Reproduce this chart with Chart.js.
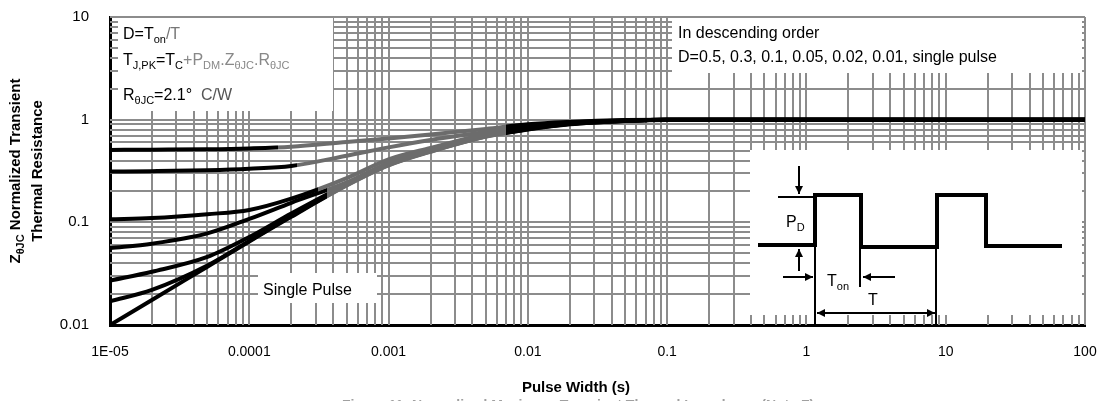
<!DOCTYPE html>
<html>
<head>
<meta charset="utf-8">
<script src="https://cdn.jsdelivr.net/npm/chart.js@4"></script>
<style>
  html, body { margin: 0; padding: 0; background: #fff; }
  #wrap { width: 1106px; height: 401px; }
</style>
</head>
<body>
<div id="wrap"><canvas id="zth" width="1106" height="401"></canvas></div>
<script>
// pulse widths (s) and normalized Zth for each duty cycle
const pulseWidth = [1e-5, 2e-5, 5e-5, 1e-4, 2e-4, 5e-4, 1e-3, 2e-3, 5e-3, 1e-2, 2e-2, 5e-2, 0.1, 1, 10, 100];
const zD05   = [0.507, 0.51, 0.515, 0.525, 0.545, 0.607, 0.656, 0.717, 0.81, 0.90, 0.95, 0.99, 1.0, 1.0, 1.0, 1.0];
const zD03   = [0.312, 0.315, 0.322, 0.333, 0.354, 0.445, 0.537, 0.634, 0.76, 0.87, 0.94, 0.985, 1.0, 1.0, 1.0, 1.0];
const zD01   = [0.107, 0.110, 0.120, 0.132, 0.170, 0.270, 0.410, 0.530, 0.72, 0.84, 0.925, 0.98, 1.0, 1.0, 1.0, 1.0];
const zD005  = [0.056, 0.062, 0.078, 0.108, 0.155, 0.245, 0.380, 0.510, 0.70, 0.825, 0.92, 0.978, 1.0, 1.0, 1.0, 1.0];
const zD002  = [0.027, 0.033, 0.046, 0.072, 0.122, 0.235, 0.365, 0.495, 0.69, 0.815, 0.912, 0.975, 1.0, 1.0, 1.0, 1.0];
const zD001  = [0.017, 0.022, 0.038, 0.066, 0.115, 0.230, 0.360, 0.490, 0.685, 0.808, 0.906, 0.974, 1.0, 1.0, 1.0, 1.0];
const zSingle = [0.010, 0.0175, 0.037, 0.065, 0.113, 0.228, 0.358, 0.486, 0.683, 0.80, 0.90, 0.97, 0.995, 1.0, 1.0, 1.0];

const seriesNames = ['D=0.5', 'D=0.3', 'D=0.1', 'D=0.05', 'D=0.02', 'D=0.01', 'Single Pulse'];
const seriesValues = [zD05, zD03, zD01, zD005, zD002, zD001, zSingle];
// where each curve fades to grey under the watermark
const greyFrom = [1.6e-4, 2.2e-4, 3.1e-4, 3.6e-4, 3.6e-4, 3.6e-4, 3.6e-4];
const greyTo = 7e-3;

const xTickValues = [1e-5, 1e-4, 1e-3, 1e-2, 0.1, 1, 10, 100];
const xTickLabels = ['1E-05', '0.0001', '0.001', '0.01', '0.1', '1', '10', '100'];
const yTickValues = [0.01, 0.1, 1, 10];
const yTickLabels = ['0.01', '0.1', '1', '10'];

const FONT = '"Liberation Sans", Arial, Helvetica, sans-serif';
const GRID = '#8c8c8c';

function gridValues(majors) {
  const out = [];
  majors.forEach((d, i) => {
    if (i === majors.length - 1) { out.push(d); return; }
    for (let m = 1; m <= 9; m++) out.push(parseFloat((m * d).toPrecision(3)));
  });
  return out;
}

function labelFor(values, labels) {
  return (v) => {
    const i = values.findIndex(t => Math.abs(Math.log10(t) - Math.log10(v)) < 1e-6);
    return i >= 0 ? labels[i] : '';
  };
}

function curveColor(idx) {
  return (c) => {
    const chart = c.chart;
    const area = chart.chartArea;
    if (!area) return '#000';
    const xs = chart.scales.x;
    const w = area.right - area.left;
    const a = (xs.getPixelForValue(greyFrom[idx]) - area.left) / w;
    const b = (xs.getPixelForValue(greyTo) - area.left) / w;
    const g = chart.ctx.createLinearGradient(area.left, 0, area.right, 0);
    g.addColorStop(0, '#000');
    g.addColorStop(a, '#000');
    g.addColorStop(a, '#6c6c6c');
    g.addColorStop(b, '#6c6c6c');
    g.addColorStop(b, '#000');
    g.addColorStop(1, '#000');
    return g;
  };
}

// text with subscripts: parts = [{t, sub, color}]
function measureRich(ctx, parts, size, bold) {
  let w = 0;
  parts.forEach(p => {
    ctx.font = `${bold ? 'bold ' : ''}${p.sub ? Math.round(size * 0.7) : size}px ${FONT}`;
    w += ctx.measureText(p.t).width;
  });
  return w;
}
function drawRich(ctx, x, y, parts, size, bold) {
  let cx = x;
  ctx.textAlign = 'left';
  ctx.textBaseline = 'alphabetic';
  parts.forEach(p => {
    ctx.font = `${bold ? 'bold ' : ''}${p.sub ? Math.round(size * 0.7) : size}px ${FONT}`;
    ctx.fillStyle = p.color || '#000';
    ctx.fillText(p.t, cx, p.sub ? y + size * 0.28 : y);
    cx += ctx.measureText(p.t).width;
  });
}

function arrow(ctx, x1, y1, x2, y2) {
  ctx.beginPath();
  ctx.moveTo(x1, y1);
  ctx.lineTo(x2, y2);
  ctx.stroke();
  const ang = Math.atan2(y2 - y1, x2 - x1);
  ctx.beginPath();
  ctx.moveTo(x2, y2);
  ctx.lineTo(x2 - 8 * Math.cos(ang) + 4 * Math.sin(ang), y2 - 8 * Math.sin(ang) - 4 * Math.cos(ang));
  ctx.lineTo(x2 - 8 * Math.cos(ang) - 4 * Math.sin(ang), y2 - 8 * Math.sin(ang) + 4 * Math.cos(ang));
  ctx.closePath();
  ctx.fill();
}

const boxesPlugin = {
  id: 'boxes',
  beforeDatasetsDraw(chart) {
    const ctx = chart.ctx;
    const a = chart.chartArea;
    const xs = chart.scales.x, ys = chart.scales.y;
    ctx.save();
    // log grid, every 1..9 of each decade (min lines left to the black axes)
    ctx.strokeStyle = GRID;
    ctx.lineWidth = 2;
    ctx.beginPath();
    gridValues(xTickValues).slice(1).forEach(v => {
      const px = Math.round(xs.getPixelForValue(v));
      ctx.moveTo(px, a.top);
      ctx.lineTo(px, a.bottom);
    });
    gridValues(yTickValues).slice(1).forEach(v => {
      const py = Math.round(ys.getPixelForValue(v));
      ctx.moveTo(a.left, py);
      ctx.lineTo(a.right, py);
    });
    ctx.stroke();

    ctx.fillStyle = '#fff';
    ctx.fillRect(a.left + 8, a.top + 1, 215, 93);          // formula box
    ctx.fillRect(a.left + 562, a.top + 1, 410, 55);        // order box
    ctx.fillRect(a.left + 640, a.top + 133, 332, 165);     // waveform inset
    ctx.fillRect(a.left + 148, a.top + 256, 119, 30);      // single pulse label
    ctx.restore();
  },
  afterDatasetsDraw(chart) {
    const ctx = chart.ctx;
    const a = chart.chartArea;
    const L = a.left, T = a.top;
    ctx.save();
    // formula notes
    drawRich(ctx, L + 13, T + 22, [{t: 'D=T'}, {t: 'on', sub: true}, {t: '/T', color: '#777'}], 16);
    drawRich(ctx, L + 13, T + 48, [
      {t: 'T'}, {t: 'J,PK', sub: true}, {t: '=T'}, {t: 'C', sub: true},
      {t: '+P', color: '#888'}, {t: 'DM', sub: true, color: '#888'}, {t: '.Z', color: '#888'},
      {t: 'θJC', sub: true, color: '#888'}, {t: '.R', color: '#888'}, {t: 'θJC', sub: true, color: '#888'}
    ], 16);
    drawRich(ctx, L + 13, T + 83, [{t: 'R'}, {t: 'θJC', sub: true}, {t: '=2.1°  '}, {t: 'C/W', color: '#555'}], 16);

    drawRich(ctx, L + 568, T + 21, [{t: 'In descending order'}], 16);
    drawRich(ctx, L + 568, T + 45, [{t: 'D=0.5, 0.3, 0.1, 0.05, 0.02, 0.01, single pulse'}], 16);
    drawRich(ctx, L + 153, T + 278, [{t: 'Single Pulse'}], 16);

    // waveform inset
    const ox = L + 640, oy = T + 133;
    ctx.strokeStyle = '#000';
    ctx.fillStyle = '#000';
    ctx.lineJoin = 'miter';
    ctx.lineWidth = 4;
    ctx.beginPath();
    ctx.moveTo(ox + 8, oy + 95);
    ctx.lineTo(ox + 65, oy + 95);
    ctx.lineTo(ox + 65, oy + 45);
    ctx.lineTo(ox + 111, oy + 45);
    ctx.lineTo(ox + 111, oy + 97);
    ctx.lineTo(ox + 187, oy + 97);
    ctx.lineTo(ox + 187, oy + 45);
    ctx.lineTo(ox + 236, oy + 45);
    ctx.lineTo(ox + 236, oy + 96);
    ctx.lineTo(ox + 312, oy + 96);
    ctx.stroke();

    ctx.lineWidth = 2;
    ctx.beginPath();
    ctx.moveTo(ox + 28, oy + 47); ctx.lineTo(ox + 64, oy + 47);
    ctx.moveTo(ox + 65, oy + 97); ctx.lineTo(ox + 65, oy + 176);
    ctx.moveTo(ox + 110, oy + 97); ctx.lineTo(ox + 110, oy + 137);
    ctx.moveTo(ox + 186, oy + 97); ctx.lineTo(ox + 186, oy + 176);
    ctx.stroke();
    arrow(ctx, ox + 49, oy + 16, ox + 49, oy + 44);
    arrow(ctx, ox + 49, oy + 121, ox + 49, oy + 99);
    arrow(ctx, ox + 33, oy + 127, ox + 63, oy + 127);
    arrow(ctx, ox + 145, oy + 127, ox + 113, oy + 127);
    arrow(ctx, ox + 126, oy + 163, ox + 67, oy + 163);
    arrow(ctx, ox + 126, oy + 163, ox + 185, oy + 163);

    drawRich(ctx, ox + 36, oy + 77, [{t: 'P'}, {t: 'D', sub: true}], 16);
    drawRich(ctx, ox + 77, oy + 136, [{t: 'T'}, {t: 'on', sub: true}], 16);
    drawRich(ctx, ox + 118, oy + 155, [{t: 'T'}], 16);
    ctx.restore();
  },
  afterDraw(chart) {
    const ctx = chart.ctx;
    const a = chart.chartArea;
    ctx.save();
    // y title, two rotated lines
    const cy = (a.top + a.bottom) / 2;
    const line1 = [{t: 'Z'}, {t: 'θJC', sub: true}, {t: ' Normalized Transient'}];
    const line2 = [{t: 'Thermal Resistance'}];
    ctx.translate(0, cy);
    ctx.rotate(-Math.PI / 2);
    drawRich(ctx, -measureRich(ctx, line1, 15, true) / 2, 20, line1, 15, true);
    drawRich(ctx, -measureRich(ctx, line2, 15, true) / 2, 42, line2, 15, true);
    ctx.restore();

    ctx.save();
    ctx.textAlign = 'center';
    ctx.textBaseline = 'alphabetic';
    ctx.fillStyle = '#000';
    ctx.font = `bold 15px ${FONT}`;
    ctx.fillText('Pulse Width (s)', 576, 392);
    ctx.fillStyle = '#a0a0a0';
    ctx.font = `bold 14px ${FONT}`;
    ctx.textBaseline = 'top';
    ctx.fillText('Figure 11: Normalized Maximum Transient Thermal Impedance (Note F)', 578, 399);
    ctx.restore();
  }
};

const datasets = seriesValues.map((vals, i) => ({
  label: seriesNames[i],
  data: pulseWidth.map((x, k) => ({x: x, y: vals[k]})),
  borderColor: curveColor(i),
  borderWidth: 4,
  pointRadius: 0,
  cubicInterpolationMode: 'monotone',
  fill: false
}));

new Chart(document.getElementById('zth'), {
  type: 'line',
  data: { datasets: datasets },
  plugins: [boxesPlugin],
  options: {
    responsive: false,
    animation: false,
    devicePixelRatio: 1,
    layout: { padding: { top: 17, right: 21, left: 0, bottom: 0 } },
    plugins: { legend: { display: false }, tooltip: { enabled: false } },
    scales: {
      x: {
        type: 'logarithmic',
        min: 1e-5,
        max: 100,
        afterBuildTicks: (s) => { s.ticks = xTickValues.map(v => ({value: v})); },
        afterFit: (s) => { s.height = 76; s.paddingLeft = 0; s.paddingRight = 0; },
        ticks: {
          autoSkip: false,
          maxRotation: 0,
          padding: 19,
          color: '#000',
          font: { family: FONT, size: 14 },
          callback: labelFor(xTickValues, xTickLabels)
        },
        grid: { display: false, drawTicks: false },
        border: { color: '#000', width: 3 }
      },
      y: {
        type: 'logarithmic',
        min: 0.01,
        max: 10,
        afterBuildTicks: (s) => { s.ticks = yTickValues.map(v => ({value: v})); },
        afterFit: (s) => { s.width = 110; s.paddingTop = 0; s.paddingBottom = 0; },
        ticks: {
          autoSkip: false,
          padding: 21,
          color: '#000',
          font: { family: FONT, size: 15 },
          callback: labelFor(yTickValues, yTickLabels)
        },
        grid: { display: false, drawTicks: false },
        border: { color: '#000', width: 3 }
      }
    }
  }
});
</script>
</body>
</html>
